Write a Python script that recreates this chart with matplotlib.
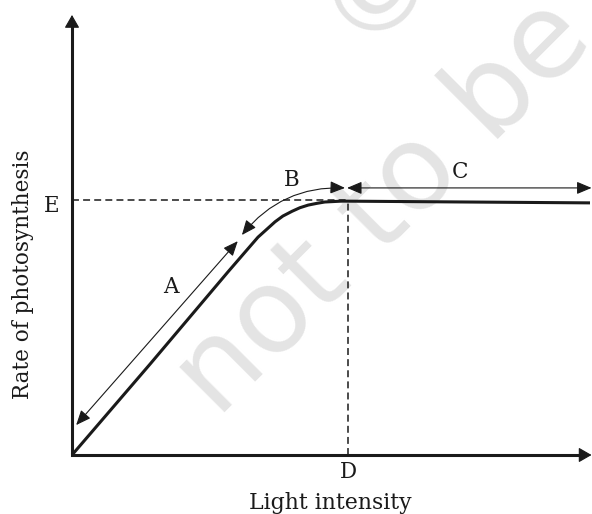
import matplotlib
matplotlib.use("Agg")
import matplotlib.pyplot as plt

plt.rcParams["lines.scale_dashes"] = False

# ---- data ----
light = [0, 15.1, 30.1, 33.4, 35.9, 37.6, 39.2, 40.7, 42.5, 44.0, 45.6, 47.3, 48.8, 52.1, 100]
rate = [0, 20.7, 41.6, 46.1, 49.5, 51.3, 53.0, 54.3, 55.4, 56.2, 56.8, 57.2, 57.5, 57.7, 57.3]
saturation_light = 53.3   # D
saturation_rate = 58.0    # E
region_labels = ["A", "B", "C"]
point_labels = ["D", "E"]
x_label = "Light intensity"
y_label = "Rate of photosynthesis"

INK = "#1a1a1a"
SERIF = "DejaVu Serif"
W, H = 592, 514

fig = plt.figure(figsize=(W / 100, H / 100), dpi=100)

# faint watermark behind the chart
wm = dict(color="#e4e4e4", fontsize=85, family="DejaVu Sans", rotation=45,
          rotation_mode="anchor", ha="left", va="baseline", zorder=-5)
fig.text(218 / W, 1 - 420 / H, "not to be", **wm)
fig.text(360 / W, 1 - 48 / H, "\u00a9", **wm)

ax = fig.add_axes([72 / W, 1 - 455 / H, (590 - 72) / W, (455 - 15) / H])
ax.set_xlim(0, 100)
ax.set_ylim(0, 100)
ax.axis("off")

# axes with arrow heads
ax.plot([0, 0, 98], [97.5, 0, 0], color=INK, lw=2.2, solid_joinstyle="miter",
        solid_capstyle="butt", clip_on=False)
head = dict(arrowstyle="-|>,head_length=8,head_width=4.6", mutation_scale=1, lw=0.8,
            fc=INK, ec=INK, shrinkA=0, shrinkB=0)
ax.annotate("", xy=(100.3, 0), xytext=(96, 0), arrowprops=head, annotation_clip=False)
ax.annotate("", xy=(0, 100), xytext=(0, 95), arrowprops=head, annotation_clip=False)

# curve
ax.plot(light, rate, color=INK, lw=2.2, solid_capstyle="butt", clip_on=False, zorder=3)

# dashed guides
dash = dict(color=INK, lw=1.1, ls=(0, (5.0, 3.0)), clip_on=False)
ax.plot([0, saturation_light], [saturation_rate, saturation_rate], **dash)
ax.plot([saturation_light, saturation_light], [0, rate[-2]], **dash)

# region arrows
dbl = dict(arrowstyle="<|-|>,head_length=9,head_width=3.8", mutation_scale=1, lw=0.8,
           fc=INK, ec=INK, shrinkA=0, shrinkB=0)
ax.annotate("", xy=(0.8, 6.8), xytext=(32.0, 48.6), arrowprops=dbl, annotation_clip=False)
ax.annotate("", xy=(32.8, 50.0), xytext=(52.7, 60.7),
            arrowprops=dict(dbl, connectionstyle="arc3,rad=0.25"), annotation_clip=False)
ax.annotate("", xy=(100.3, 60.7), xytext=(53.1, 60.7), arrowprops=dbl, annotation_clip=False)

# labels
txt = dict(family=SERIF, fontsize=15.5, color=INK, ha="center", va="baseline", clip_on=False)
ax.text(19.0, 36.9, region_labels[0], **txt)
ax.text(42.5, 61.1, region_labels[1], **txt)
ax.text(74.9, 62.9, region_labels[2], **txt)
ax.text(saturation_light, -5.2, point_labels[0], **txt)
ax.text(-3.9, 55.2, point_labels[1], **txt)
ax.text(49.8, -12.3, x_label, **dict(txt, fontsize=15.8))
ax.text(-9.5, 41.0, y_label, rotation=90, **dict(txt, fontsize=15.5, va="center"))

fig.savefig("out.png", dpi=100)
